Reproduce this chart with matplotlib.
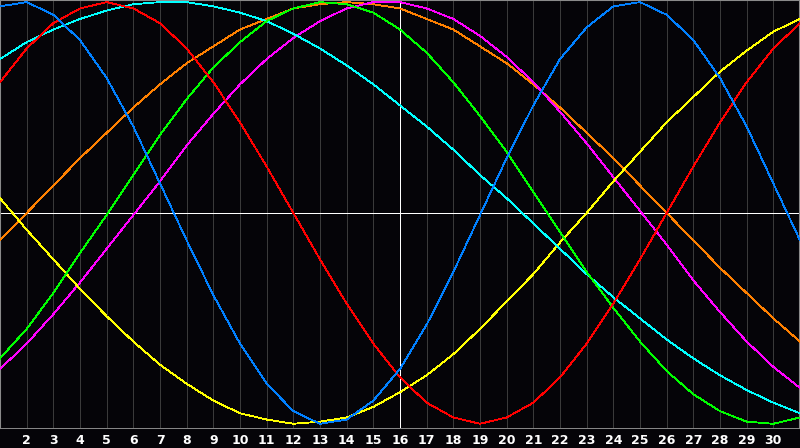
import matplotlib
matplotlib.use('Agg')
import matplotlib.pyplot as plt

# Days shown on the chart and the labelled ones.
days = list(range(1, 32))
day_labels = list(range(2, 31))
today = 16

# Curve values per day (-1 .. 1).
blue = [0.98, 1.00, 0.94, 0.82, 0.64, 0.41, 0.14, -0.13, -0.39, -0.62, -0.81, -0.94, -1.00, -0.98, -0.89, -0.74,
        -0.53, -0.28, -0.01, 0.26, 0.51, 0.73, 0.88, 0.98, 1.00, 0.94, 0.82, 0.64, 0.41, 0.14, -0.13]
red = [0.62, 0.78, 0.90, 0.97, 1.00, 0.97, 0.90, 0.78, 0.62, 0.43, 0.22, 0.00, -0.22, -0.43, -0.62, -0.78,
       -0.90, -0.97, -1.00, -0.97, -0.90, -0.78, -0.62, -0.43, -0.22, 0.00, 0.22, 0.43, 0.62, 0.78, 0.90]
green = [-0.69, -0.55, -0.38, -0.19, -0.01, 0.18, 0.37, 0.54, 0.69, 0.81, 0.91, 0.97, 1.00, 0.99, 0.95, 0.87,
         0.76, 0.62, 0.46, 0.29, 0.10, -0.09, -0.28, -0.45, -0.61, -0.75, -0.86, -0.94, -0.99, -1.00, -0.97]
cyan = [0.73, 0.81, 0.87, 0.92, 0.96, 0.99, 1.00, 1.00, 0.98, 0.95, 0.91, 0.85, 0.78, 0.70, 0.61, 0.51,
        0.41, 0.30, 0.18, 0.07, -0.05, -0.17, -0.29, -0.40, -0.50, -0.60, -0.69, -0.77, -0.84, -0.90, -0.95]
yellow = [0.07, -0.08, -0.22, -0.36, -0.49, -0.61, -0.72, -0.81, -0.89, -0.95, -0.98, -1.00, -0.99, -0.97, -0.92, -0.85,
          -0.77, -0.67, -0.55, -0.42, -0.29, -0.14, 0.00, 0.15, 0.29, 0.43, 0.55, 0.67, 0.77, 0.86, 0.92]
orange = [-0.13, 0.00, 0.13, 0.26, 0.38, 0.50, 0.61, 0.71, 0.79, 0.87, 0.92, 0.97, 0.99, 1.00, 0.99, 0.97,
          0.92, 0.87, 0.79, 0.71, 0.61, 0.50, 0.38, 0.26, 0.13, 0.00, -0.13, -0.26, -0.38, -0.50, -0.61]
magenta = [-0.74, -0.62, -0.48, -0.33, -0.17, -0.01, 0.15, 0.32, 0.47, 0.61, 0.73, 0.83, 0.91, 0.97, 1.00, 1.00,
           0.97, 0.92, 0.84, 0.74, 0.62, 0.48, 0.33, 0.17, 0.01, -0.15, -0.32, -0.47, -0.61, -0.73, -0.83]

series = [(orange, '#ff8000'), (magenta, '#ff00ff'), (yellow, '#ffff00'), (cyan, '#00ffff'),
          (green, '#00ff00'), (red, '#ff0000'), (blue, '#0080ff')]

bg = '#050408'
fig = plt.figure(figsize=(8, 4.48), dpi=100, facecolor=bg)
ax = fig.add_axes([0, 20 / 448, 1, 428 / 448], facecolor=bg)

# day grid, today line and the zero line
for d in day_labels:
    if d != today:
        ax.axvline(d, color='#3a3a3a', lw=0.6, antialiased=False, zorder=1)
ax.axvline(today, color='white', lw=0.6, antialiased=False, zorder=2)
ax.axhline(0, color='white', lw=0.6, antialiased=False, zorder=2)

for vals, col in series:
    ax.plot(days, vals, color=col, lw=0.6, antialiased=False, zorder=3)

ax.set_xlim(days[0], days[-1])
ax.set_ylim(-1.02, 1.01)
ax.set_yticks([])
ax.set_xticks(day_labels)
ax.set_xticklabels([str(d) for d in day_labels], fontweight='bold', family='DejaVu Sans')
ax.tick_params(axis='x', length=0, pad=4, labelsize=9, labelcolor='white')
for name, s in ax.spines.items():
    s.set_color('#8a8a8a')
    s.set_linewidth(0.7 if name == 'bottom' else 1.5)

fig.savefig('out.png', dpi=100, facecolor=bg)
